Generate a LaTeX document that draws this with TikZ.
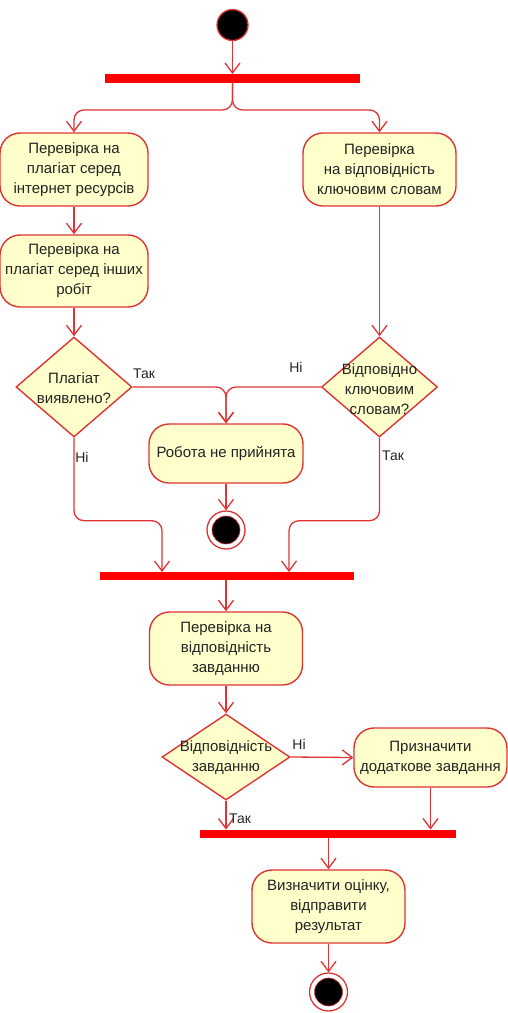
\documentclass[tikz,border=0pt]{standalone}
\usepackage{fontspec}
\setmainfont{Liberation Sans}
\usetikzlibrary{shapes.geometric,arrows.meta,calc}
\definecolor{ln}{RGB}{222,52,52}
\definecolor{bx}{RGB}{255,255,204}
\definecolor{tx}{RGB}{35,35,35}
\definecolor{barred}{RGB}{255,0,0}
\begin{document}
\begin{tikzpicture}[x=1pt,y=-1pt,
  act/.style={draw=ln, line width=1.4pt, fill=bx, rounded corners=20pt, align=center,
    text=tx, font=\fontsize{15}{20}\selectfont, inner sep=0pt, minimum width=152pt, minimum height=73pt},
  dec/.style={draw=ln, line width=1.4pt, fill=bx, diamond, inner sep=0pt},
  dtext/.style={align=center, text=tx, font=\fontsize{15}{20}\selectfont},
  syncbar/.style={fill=barred, draw=none, inner sep=0pt, minimum height=8.5pt},
  flow/.style={draw=ln, line width=1.3pt, rounded corners=10pt, -{Straight Barb[length=10pt,width=15pt,line width=1.3pt]}},
  guard/.style={text=tx, font=\fontsize{14}{16}\selectfont, inner sep=0pt},
  initial/.style={circle, fill=black, draw=ln, line width=1.3pt, minimum size=31pt, inner sep=0pt},
  finalout/.style={circle, fill=white, draw=ln, line width=1.3pt, minimum size=38pt, inner sep=0pt},
  finalin/.style={circle, fill=black, draw=ln, line width=0.6pt, minimum size=28pt, inner sep=0pt}
]
\useasboundingbox (0,0) rectangle (508,1013);

% nodes
\node[initial] (start) at (232.5,25) {};
\node[syncbar, minimum width=255pt] (bar1) at (232.5,78.5) {};
\node[act, minimum width=148pt] (b1) at (74,169.5) {Перевірка на\\плагіат серед\\інтернет ресурсів};
\node[act, minimum width=153pt] (b2) at (379.5,169.5) {Перевірка\\на відповідність\\ключовим словам};
\node[act, minimum width=148pt, minimum height=72pt] (b3) at (74,271) {Перевірка на\\плагіат серед інших\\робіт};
\node[dec, minimum width=116pt, minimum height=100pt] (d1) at (74,387) {};
\node[dtext] (d1t) at (74,388) {Плагіат\\виявлено?};
\node[dec, minimum width=116pt, minimum height=100pt] (d2) at (379.5,387) {};
\node[dtext] (d2t) at (379.5,389) {Відповідно\\ключовим\\словам?};
\node[act, minimum width=154pt, minimum height=59pt] (b4) at (226,453.5) {Робота не прийнята};
\node[finalout] (f1) at (226,530) {};
\node[finalin] (f1i) at (226,530) {};
\node[syncbar, minimum width=254pt] (bar2) at (227,576) {};
\node[act, minimum width=153pt] (b5) at (226,648.5) {Перевірка на\\відповідність\\завданню};
\node[dec, minimum width=128pt, minimum height=86pt] (d3) at (226,757) {};
\node[dtext] (d3t) at (226,758) {Відповідність\\завданню};
\node[act, minimum width=153pt, minimum height=59pt] (b6) at (430.5,757.5) {Призначити\\додаткове завдання};
\node[syncbar, minimum width=256pt] (bar3) at (328,834) {};
\node[act, minimum width=153pt] (b7) at (328.5,906.5) {Визначити оцінку,\\відправити\\результат};
\node[finalout] (f2) at (328.5,992) {};
\node[finalin] (f2i) at (328.5,992) {};

\coordinate (j2a) at (162,572);
\coordinate (j2b) at (289,572);

% connectors
\draw[flow] (start) -- (bar1);
\draw[flow] (bar1.south) -- ++(0,27) -| (b1.north);
\draw[flow] (bar1.south) -- ++(0,27) -| (b2.north);
\draw[flow] (b1) -- (b3);
\draw[flow] (b3) -- (d1);
\draw[flow] (b2) -- (d2);
\draw[flow] (d1.east) -| (b4.north);
\draw[flow] (d2.west) -| (b4.north);
\draw[flow] (b4) -- (f1);
\draw[flow] (d1.south) -- ++(0,83) -| (j2a);
\draw[flow] (d2.south) -- ++(0,83) -| (j2b);
\draw[flow] (bar2.south -| b5.north) -- (b5.north);
\draw[flow] (b5) -- (d3);
\draw[flow] (d3.east) -- (b6.west);
\draw[flow] (b6.south) -- (b6.south |- bar3.north);
\draw[flow] (d3.south) -- (d3.south |- bar3.north);
\draw[flow] (bar3.south -| b7.north) -- (b7.north);
\draw[flow] (b7) -- (f2);

% guards
\node[guard] (g1) at (144,374) {Так};
\node[guard] (g2) at (82,457) {Ні};
\node[guard] (g3) at (296,367) {Ні};
\node[guard] (g4) at (393,456) {Так};
\node[guard] (g5) at (299,744) {Ні};
\node[guard] (g6) at (240,819) {Так};
\end{tikzpicture}
\end{document}
